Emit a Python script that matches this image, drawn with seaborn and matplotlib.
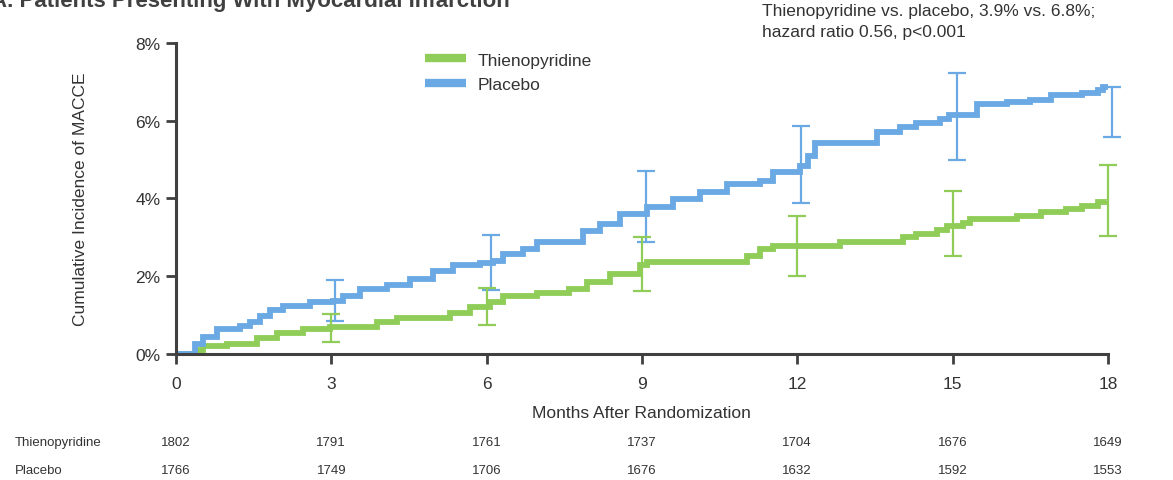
import numpy as np
import pandas as pd
import matplotlib
matplotlib.use("Agg")
import matplotlib.pyplot as plt
import seaborn as sns
from matplotlib.lines import Line2D

# ---- data ----
thieno_t = [0, 0.46, 0.52, 0.98, 1.56, 1.95, 2.46, 2.97, 3.88, 4.27, 5.29, 5.68, 6.06, 6.32, 6.97, 7.6, 7.94, 8.38,
            8.96, 9.1, 11.02, 11.28, 11.53, 12.82, 14.04, 14.3, 14.7, 14.9, 15.2, 15.33, 16.24, 16.7, 17.2, 17.5, 17.8, 18]
thieno_v = [0, 0.1, 0.2, 0.26, 0.4, 0.54, 0.64, 0.69, 0.82, 0.92, 1.05, 1.2, 1.33, 1.5, 1.58, 1.67, 1.85, 2.06,
            2.29, 2.36, 2.52, 2.7, 2.77, 2.88, 3.0, 3.08, 3.2, 3.3, 3.38, 3.46, 3.56, 3.64, 3.72, 3.8, 3.9, 3.93]
placebo_t = [0, 0.37, 0.52, 0.79, 1.24, 1.43, 1.62, 1.82, 2.07, 2.59, 3.03, 3.23, 3.55, 4.07, 4.52, 4.96, 5.35, 5.87,
             6.12, 6.32, 6.7, 6.97, 7.86, 8.19, 8.57, 9.1, 9.6, 10.12, 10.64, 11.28, 11.53, 12.05, 12.2, 12.35, 13.54,
             13.98, 14.3, 14.75, 14.94, 15.47, 16.05, 16.5, 16.9, 17.5, 17.8, 17.9, 18]
placebo_v = [0, 0.26, 0.44, 0.64, 0.72, 0.82, 0.97, 1.13, 1.24, 1.33, 1.37, 1.5, 1.67, 1.77, 1.93, 2.13, 2.29, 2.34,
             2.39, 2.57, 2.7, 2.88, 3.16, 3.34, 3.6, 3.78, 3.98, 4.16, 4.37, 4.45, 4.68, 4.83, 5.1, 5.42, 5.7,
             5.83, 5.93, 6.04, 6.14, 6.43, 6.47, 6.53, 6.66, 6.71, 6.79, 6.86, 6.86]

eb_months = [3, 6, 9, 12, 15, 18]
thieno_mid = [0.69, 1.25, 2.33, 2.77, 3.35, 3.93]
thieno_lo = [0.31, 0.75, 1.62, 2.0, 2.52, 3.03]
thieno_hi = [1.03, 1.7, 3.0, 3.55, 4.19, 4.86]
placebo_mid = [1.37, 2.36, 3.78, 4.85, 6.14, 6.86]
placebo_lo = [0.85, 1.65, 2.88, 3.88, 4.99, 5.58]
placebo_hi = [1.9, 3.06, 4.7, 5.86, 7.22, 6.86]

risk_months = [0, 3, 6, 9, 12, 15, 18]
risk_thieno = [1802, 1791, 1761, 1737, 1704, 1676, 1649]
risk_placebo = [1766, 1749, 1706, 1676, 1632, 1592, 1553]

groups = ["Thienopyridine", "Placebo"]
colors = {"Thienopyridine": "#8fcd58", "Placebo": "#6aa9e3"}

# ---- plot ----
sns.set_style("ticks")
plt.rcParams["font.family"] = ["Liberation Sans", "DejaVu Sans"]
fig = plt.figure(figsize=(11.73, 4.81), dpi=100)
ax = fig.add_axes([0.150, 0.262, 0.7945, 0.6466])

df = pd.concat([
    pd.DataFrame({"t": thieno_t, "v": thieno_v, "g": groups[0]}),
    pd.DataFrame({"t": placebo_t, "v": placebo_v, "g": groups[1]}),
])
sns.lineplot(data=df, x="t", y="v", hue="g", hue_order=groups, palette=colors,
             drawstyle="steps-post", lw=4.2, ax=ax, legend=False, estimator=None)
for ln in ax.get_lines():
    ln.set_solid_capstyle("butt")
    ln.set_solid_joinstyle("miter")

dodge = {"Thienopyridine": 0.0, "Placebo": 0.08}
for g, mid, lo, hi in [(groups[1], placebo_mid, placebo_lo, placebo_hi),
                       (groups[0], thieno_mid, thieno_lo, thieno_hi)]:
    mid = np.array(mid); lo = np.array(lo); hi = np.array(hi)
    cont = ax.errorbar(np.array(eb_months) + dodge[g], mid, yerr=[mid - lo, hi - mid], fmt="none",
                       ecolor=colors[g], elinewidth=1.6, capsize=6.5, capthick=1.6, zorder=3)
    for art in cont.get_children():
        art.set_clip_on(False)

ax.set_xlim(0, 18)
ax.set_ylim(0, 8)
ax.set_xticks(risk_months)
ax.set_xticklabels([str(m) for m in risk_months], fontsize=12.5, color="#333333")
ax.set_yticks([0, 2, 4, 6, 8])
ax.set_yticklabels([f"{v}%" for v in [0, 2, 4, 6, 8]], fontsize=12.5, color="#333333")
ax.tick_params(axis="both", length=7, width=2, color="#404040", direction="out", pad=4)
ax.tick_params(axis="x", pad=9)
for s in ["top", "right"]:
    ax.spines[s].set_visible(False)
for s in ["left", "bottom"]:
    ax.spines[s].set_linewidth(2.2)
    ax.spines[s].set_color("#404040")
ax.set_xlabel("Months After Randomization", fontsize=12.5, color="#333333", labelpad=10)
ax.set_ylabel("Cumulative Incidence of MACCE", fontsize=12.5, color="#333333", labelpad=34)

handles = [Line2D([0], [0], color=colors[g], lw=6, solid_capstyle="butt") for g in groups]
ax.legend(handles, groups, loc="upper left", bbox_to_anchor=(0.250, 1.02), frameon=False,
          fontsize=12.5, handlelength=2.4, handletextpad=0.65, labelspacing=0.55,
          labelcolor="#333333")

fig.text(0.650, 0.955, "Thienopyridine vs. placebo, 3.9% vs. 6.8%;\nhazard ratio 0.56, p<0.001",
         fontsize=12.5, color="#333333", va="center", ha="left", linespacing=1.5)
fig.text(-0.008, 0.985, "A. Patients Presenting With Myocardial Infarction", fontsize=16,
         fontweight="bold", color="#404040", va="baseline", ha="left")

# number at risk table
for row_y, name, vals in [(443, groups[0], risk_thieno), (471, groups[1], risk_placebo)]:
    fy = 1 - row_y / 481
    fig.text(0.013, fy, name, fontsize=9.5, color="#333333", va="center", ha="left")
    for m, v in zip(risk_months, vals):
        xd = ax.transData.transform((m, 0))[0]
        xf = fig.transFigure.inverted().transform((xd, 0))[0]
        fig.text(xf, fy, str(v), fontsize=9.5, color="#333333", va="center", ha="center")

fig.savefig("out.png", dpi=100)
